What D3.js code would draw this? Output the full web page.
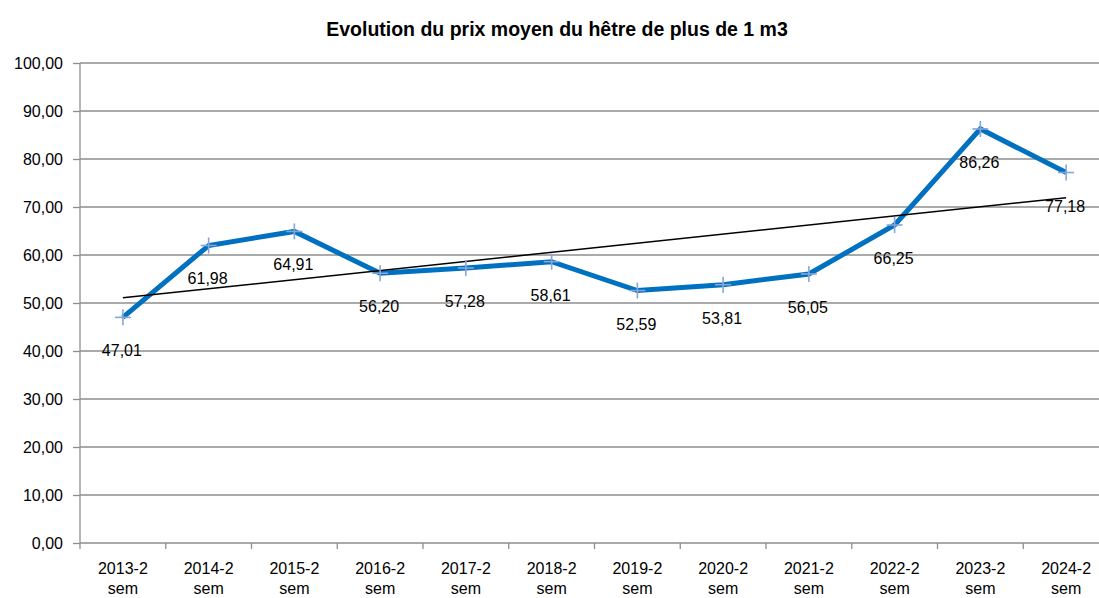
<!DOCTYPE html>
<html><head><meta charset="utf-8">
<script src="https://cdn.jsdelivr.net/npm/d3@7"></script>
<style>
html,body{margin:0;padding:0;background:#fff;}
svg text{font-family:"Liberation Sans",Arial,sans-serif;fill:#000;}
</style></head>
<body>
<svg id="c" width="1099" height="598"></svg>
<script>
const categories = ["2013-2 sem","2014-2 sem","2015-2 sem","2016-2 sem","2017-2 sem","2018-2 sem","2019-2 sem","2020-2 sem","2021-2 sem","2022-2 sem","2023-2 sem","2024-2 sem"];
const values = [47.01,61.98,64.91,56.20,57.28,58.61,52.59,53.81,56.05,66.25,86.26,77.18];
const yTicks = [0,10,20,30,40,50,60,70,80,90,100];
const title = "Evolution du prix moyen du hêtre de plus de 1 m3";

const svg = d3.select("#c");
const m = {left:80, right:1109, top:63, bottom:543};
const x = d3.scaleBand().domain(categories).range([m.left, m.right]);
const y = d3.scaleLinear().domain([0,100]).range([m.bottom, m.top]);
const fmt = v => d3.format(".2f")(v).replace(".", ",");
const cx = d => x(d) + x.bandwidth()/2;

// title
svg.append("text").attr("x", 557).attr("y", 36).attr("text-anchor","middle")
  .style("font-weight","bold").style("font-size","19.5px").text(title);

// gridlines
svg.append("g").selectAll("line").data(yTicks.filter(t=>t>0)).join("line")
  .attr("x1", m.left).attr("x2", m.right).attr("y1", d=>y(d)).attr("y2", d=>y(d))
  .attr("stroke","#8e8e8e").attr("stroke-width",1.3);

// y axis
const yAxis = d3.axisLeft(y).tickValues(yTicks).tickFormat(fmt).tickSize(7).tickPadding(10);
const gy = svg.append("g").attr("transform",`translate(${m.left},0)`).call(yAxis);
gy.select(".domain").attr("stroke","#8e8e8e").attr("stroke-width",1.3).attr("d",`M0,${m.top}V${m.bottom}`);
gy.selectAll(".tick line").attr("stroke","#8e8e8e").attr("stroke-width",1.3);
gy.selectAll(".tick text").style("font-size","16px").style("font-family","Liberation Sans").attr("fill","#000");

// x axis
const xAxis = d3.axisBottom(x).tickSize(0).tickFormat("");
const gx = svg.append("g").attr("transform",`translate(0,${m.bottom})`).call(xAxis);
gx.select(".domain").attr("stroke","#8e8e8e").attr("stroke-width",1.3).attr("d",`M${m.left},0H${m.right}`);
gx.selectAll(".tick").remove();
// boundary ticks
const bounds = categories.map(c => x(c)).concat([m.right]);
gx.selectAll("line.b").data(bounds).join("line").attr("class","b")
  .attr("x1",d=>d).attr("x2",d=>d).attr("y1",0).attr("y2",6)
  .attr("stroke","#8e8e8e").attr("stroke-width",1.3);
// category labels
const lab = svg.append("g").selectAll("text").data(categories).join("text")
  .attr("text-anchor","middle").style("font-size","16px");
lab.each(function(d){
  const parts = d.split(" ");
  const t = d3.select(this);
  t.append("tspan").attr("x", cx(d)).attr("y", 574).text(parts[0]);
  t.append("tspan").attr("x", cx(d)).attr("y", 594).text(parts[1]);
});

// series line
const line = d3.line().x((d,i)=>cx(categories[i])).y(d=>y(d));
svg.append("path").datum(values).attr("d", line).attr("fill","none")
  .attr("stroke","#0070C0").attr("stroke-width",5).attr("stroke-linejoin","miter");

// trend (linear regression)
const n = values.length;
const xs = d3.range(1, n+1);
const mx = d3.mean(xs), my = d3.mean(values);
const slope = d3.sum(xs.map((xi,i)=>(xi-mx)*(values[i]-my))) / d3.sum(xs.map(xi=>(xi-mx)**2));
const icpt = my - slope*mx;
svg.append("line")
  .attr("x1", cx(categories[0])).attr("y1", y(icpt + slope*1))
  .attr("x2", cx(categories[n-1])).attr("y2", y(icpt + slope*n))
  .attr("stroke","#000").attr("stroke-width",1.5);

// markers
const mk = svg.append("g").selectAll("g").data(values).join("g")
  .attr("transform",(d,i)=>`translate(${cx(categories[i])},${y(d)})`);
mk.append("line").attr("x1",-8).attr("x2",8).attr("stroke","#86a6d8").attr("stroke-width",1.6);
mk.append("line").attr("y1",-8).attr("y2",8).attr("stroke","#86a6d8").attr("stroke-width",1.6);

// data labels
svg.append("g").selectAll("text").data(values).join("text")
  .attr("x",(d,i)=>cx(categories[i])-1).attr("y",d=>y(d)+39)
  .attr("text-anchor","middle").style("font-size","16px").text(fmt);
</script>
</body></html>
